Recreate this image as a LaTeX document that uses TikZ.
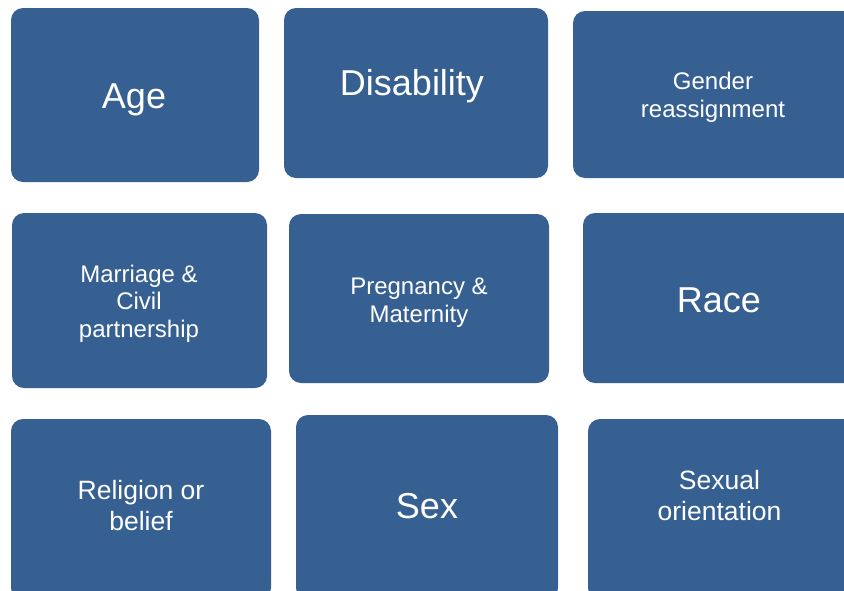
\documentclass[tikz,border=0pt]{standalone}
\usepackage{fontspec}
\setmainfont{Liberation Sans}
\definecolor{tileblue}{RGB}{54,96,145}

\begin{document}
\begin{tikzpicture}[
    x=1pt, y=-1pt,
    tile/.style={fill=tileblue, rounded corners=12pt, inner sep=0pt},
    caption/.style={text=white, align=center, inner sep=0pt, anchor=base},
    bigcap/.style={caption, font=\fontsize{36}{40}\selectfont},
    smallcap/.style={caption, font=\fontsize{24}{27.5}\selectfont},
    midcap/.style={caption, font=\fontsize{26.5}{30.5}\selectfont},
  ]
  \useasboundingbox (0,0) rectangle (844,590);
  \clip (0,0) rectangle (844,590);
  % first row
  \node[tile, minimum width=248, minimum height=174] (age) at (135,95) {};
  \node[tile, minimum width=264, minimum height=170] (disability) at (416,93) {};
  \node[tile, minimum width=287, minimum height=167] (gender) at (716.5,94.5) {};
  % second row
  \node[tile, minimum width=255, minimum height=175] (marriage) at (139.5,300.5) {};
  \node[tile, minimum width=260, minimum height=169] (pregnancy) at (419,298.5) {};
  \node[tile, minimum width=277, minimum height=170] (race) at (721.5,298) {};
  % third row
  \node[tile, minimum width=260, minimum height=181] (religion) at (141,509.5) {};
  \node[tile, minimum width=262, minimum height=185] (sex) at (427,507.5) {};
  \node[tile, minimum width=272, minimum height=181] (sexual) at (724,509.5) {};

  % captions (base = last line)
  \node[bigcap] (age-txt) at (134,108) {Age};
  \node[bigcap] (disability-txt) at (412,95) {Disability};
  \node[smallcap] (gender-txt) at (713,117) {Gender\\reassignment};
  \node[smallcap] (marriage-txt) at (139,337) {Marriage \&\\Civil\\partnership};
  \node[smallcap] (pregnancy-txt) at (419,322) {Pregnancy \&\\Maternity};
  \node[bigcap] (race-txt) at (719,312) {Race};
  \node[midcap] (religion-txt) at (141,530) {Religion or\\belief};
  \node[bigcap] (sex-txt) at (427,518) {Sex};
  \node[midcap] (sexual-txt) at (719.5,520) {Sexual\\orientation};
\end{tikzpicture}
\end{document}
